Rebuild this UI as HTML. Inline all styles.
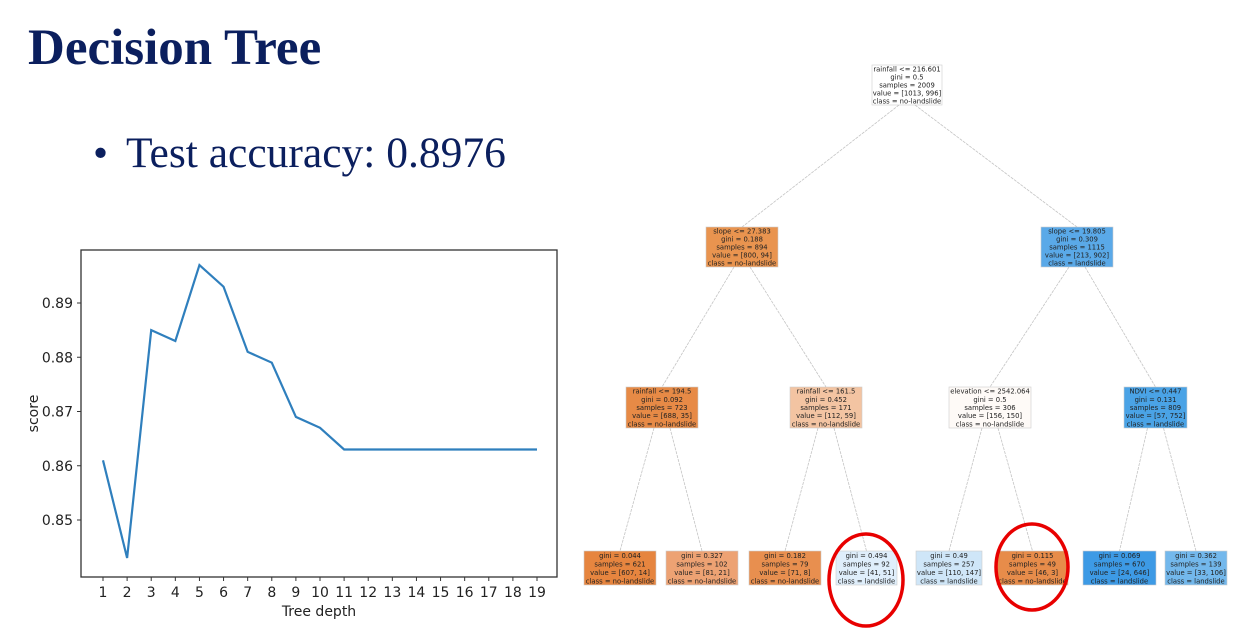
<!DOCTYPE html>
<html><head><meta charset="utf-8"><style>
body{margin:0;width:1236px;height:628px;background:#fff;overflow:hidden;position:relative;font-family:"Liberation Sans",sans-serif}
.t{position:absolute;font-family:"Liberation Serif",serif;color:#0b1f5e;white-space:nowrap;line-height:1}
</style></head><body>
<div class="t" style="left:28px;top:23px;font-size:51px;font-weight:bold">Decision Tree</div>
<div class="t" style="left:93px;top:132px;font-size:43px">•</div>
<div class="t" style="left:126px;top:132px;font-size:43.5px">Test accuracy: 0.8976</div>
<svg id="chart" width="1236" height="628" style="position:absolute;left:0;top:0"></svg>
<script>
const depths=[1,2,3,4,5,6,7,8,9,10,11,12,13,14,15,16,17,18,19];
const scores=[0.861,0.843,0.885,0.883,0.897,0.893,0.881,0.879,0.869,0.867,0.863,0.863,0.863,0.863,0.863,0.863,0.863,0.863,0.863];
const yTicks=[0.85,0.86,0.87,0.88,0.89];
const NS="http://www.w3.org/2000/svg";
const svg=document.getElementById('chart');
function mk(t,a,p){const e=document.createElementNS(NS,t);for(const k in a)e.setAttribute(k,a[k]);(p||svg).appendChild(e);return e;}
const L=81,R=557,T=250,B=577;
function xs(d){return 103+(d-1)*(537-103)/18;}
function ys(v){return 303+(0.89-v)*(520-303)/0.04;}
let e=mk('rect',{x:L,y:T,width:R-L,height:B-T,fill:'none',stroke:'#333','stroke-width':1.3});

depths.forEach(d=>{mk('line',{x1:xs(d),x2:xs(d),y1:B,y2:B+4,stroke:'#333'});
 const t=mk('text',{x:xs(d),y:B+20,'text-anchor':'middle','font-size':14,fill:'#222','font-family':'DejaVu Sans, sans-serif'});t.textContent=d;
 });
yTicks.forEach(v=>{mk('line',{x1:L-4,x2:L,y1:ys(v),y2:ys(v),stroke:'#333'});
 const t=mk('text',{x:L-8,y:ys(v)+5,'text-anchor':'end','font-size':14,fill:'#222','font-family':'DejaVu Sans, sans-serif'});t.textContent=v.toFixed(2);
 });
let xt=mk('text',{x:(L+R)/2,y:616,'text-anchor':'middle','font-size':14,fill:'#222','font-family':'DejaVu Sans, sans-serif'});xt.textContent='Tree depth';

let yt=mk('text',{x:0,y:0,transform:'translate(38,'+((T+B)/2)+') rotate(-90)','text-anchor':'middle','font-size':14,fill:'#222','font-family':'DejaVu Sans, sans-serif'});yt.textContent='score';

let ln=mk('polyline',{points:depths.map((d,i)=>xs(d)+','+ys(scores[i])).join(' '),fill:'none',stroke:'#2f7fbd','stroke-width':2.2});


const nodes=[
 {n:'root',x1:872,x2:942,y:65,h:40,c:'#ffffff',lines:['rainfall <= 216.601','gini = 0.5','samples = 2009','value = [1013, 996]','class = no-landslide']},
 {n:'l1',x1:706,x2:778,y:227,h:40,c:'#e9944f',lines:['slope <= 27.383','gini = 0.188','samples = 894','value = [800, 94]','class = no-landslide']},
 {n:'r1',x1:1041,x2:1113,y:227,h:40,c:'#5aa9e8',lines:['slope <= 19.805','gini = 0.309','samples = 1115','value = [213, 902]','class = landslide']},
 {n:'ll2',x1:626,x2:698,y:387,h:41,c:'#e78a46',lines:['rainfall <= 194.5','gini = 0.092','samples = 723','value = [688, 35]','class = no-landslide']},
 {n:'lr2',x1:790,x2:862,y:387,h:41,c:'#f3c4a2',lines:['rainfall <= 161.5','gini = 0.452','samples = 171','value = [112, 59]','class = no-landslide']},
 {n:'rl2',x1:949,x2:1031,y:387,h:41,c:'#fefaf7',lines:['elevation <= 2542.064','gini = 0.5','samples = 306','value = [156, 150]','class = no-landslide']},
 {n:'rr2',x1:1124,x2:1187,y:387,h:41,c:'#4aa3e6',lines:['NDVI <= 0.447','gini = 0.131','samples = 809','value = [57, 752]','class = landslide']},
 {n:'leaf1',x1:584,x2:656,y:551,h:34,c:'#e6853f',lines:['gini = 0.044','samples = 621','value = [607, 14]','class = no-landslide']},
 {n:'leaf2',x1:666,x2:738,y:551,h:34,c:'#eda273',lines:['gini = 0.327','samples = 102','value = [81, 21]','class = no-landslide']},
 {n:'leaf3',x1:749,x2:821,y:551,h:34,c:'#e88f4f',lines:['gini = 0.182','samples = 79','value = [71, 8]','class = no-landslide']},
 {n:'leaf4',x1:836,x2:897,y:551,h:34,c:'#dfeefb',lines:['gini = 0.494','samples = 92','value = [41, 51]','class = landslide']},
 {n:'leaf5',x1:916,x2:982,y:551,h:34,c:'#cfe6f8',lines:['gini = 0.49','samples = 257','value = [110, 147]','class = landslide']},
 {n:'leaf6',x1:997,x2:1068,y:551,h:34,c:'#e78c4a',lines:['gini = 0.115','samples = 49','value = [46, 3]','class = no-landslide']},
 {n:'leaf7',x1:1083,x2:1156,y:551,h:34,c:'#3d9ae5',lines:['gini = 0.069','samples = 670','value = [24, 646]','class = landslide']},
 {n:'leaf8',x1:1165,x2:1227,y:551,h:34,c:'#73b8ec',lines:['gini = 0.362','samples = 139','value = [33, 106]','class = landslide']}
];
const edges=[[0,1],[0,2],[1,3],[1,4],[2,5],[2,6],[3,7],[3,8],[4,9],[4,10],[5,11],[5,12],[6,13],[6,14]];
edges.forEach(([a,b])=>{const A=nodes[a],B2=nodes[b];
 const l=mk('line',{x1:(A.x1+A.x2)/2+(b%2?-8:8),y1:A.y+A.h,x2:(B2.x1+B2.x2)/2,y2:B2.y,stroke:'#c4c4c4','stroke-width':0.8,'stroke-dasharray':'3 1'});
 });
nodes.forEach(nd=>{const g=mk('g',{});
 mk('rect',{x:nd.x1,y:nd.y,width:nd.x2-nd.x1,height:nd.h,fill:nd.c,stroke:'#ccc','stroke-width':0.6},g);
 const lh=nd.h/nd.lines.length;
 nd.lines.forEach((s,i)=>{const t=mk('text',{x:(nd.x1+nd.x2)/2,y:nd.y+lh*(i+0.8),'text-anchor':'middle','font-size':6.8,fill:'#222','font-family':'DejaVu Sans, sans-serif'},g);t.textContent=s;});});
[[866,580,37,46],[1032,567,36,43]].forEach(c=>{const el=mk('ellipse',{cx:c[0],cy:c[1],rx:c[2],ry:c[3],fill:'none',stroke:'#e80000','stroke-width':3.5});
 });
</script>
</body></html>
